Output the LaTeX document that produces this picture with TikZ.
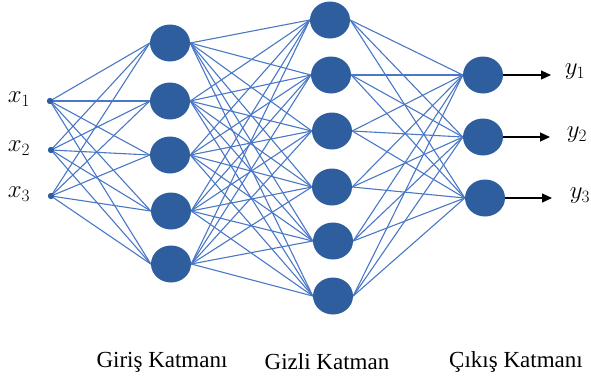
\documentclass[tikz,border=0pt]{standalone}
\usepackage{fontspec}
\setmainfont{Liberation Serif}
\usetikzlibrary{shapes.geometric,arrows.meta}
\definecolor{nodeblue}{RGB}{46,94,158}
\definecolor{edgeblue}{RGB}{74,120,198}
\begin{document}
\begin{tikzpicture}[x=1pt,y=-1pt,
  neuron/.style={ellipse,fill=nodeblue,draw=none,minimum width=40pt,minimum height=37pt,inner sep=0pt},
  indot/.style={circle,fill=nodeblue,minimum size=6pt,inner sep=0pt},
  edge/.style={edgeblue,line width=1.1pt},
  outarrow/.style={black,line width=1.2pt,-{Triangle[length=10pt,width=9pt]}},
  lbl/.style={font=\fontsize{23}{26}\selectfont},
  mlbl/.style={font=\fontsize{24}{28}\selectfont}]
\useasboundingbox (0,0) rectangle (591,384);
% input
\node[indot] (i1) at (50,101) {};
\node[indot] (i2) at (51,150) {};
\node[indot] (i3) at (51,196) {};
\node[mlbl] (xl1) at (19,99) {$x_1$};
\node[mlbl] (xl2) at (19,148) {$x_2$};
\node[mlbl] (xl3) at (19,194) {$x_3$};
% layer 1
\node[neuron] (a1) at (170,43) {};
\node[neuron] (a2) at (170,101) {};
\node[neuron] (a3) at (170,155) {};
\node[neuron] (a4) at (171,211) {};
\node[neuron] (a5) at (171,264) {};
% layer 2
\node[neuron] (b1) at (330,20) {};
\node[neuron] (b2) at (331,75) {};
\node[neuron] (b3) at (332,131) {};
\node[neuron] (b4) at (332,187) {};
\node[neuron] (b5) at (333,241) {};
\node[neuron] (b6) at (333,296) {};
% layer 3
\node[neuron] (c1) at (483,75) {};
\node[neuron] (c2) at (483,137) {};
\node[neuron] (c3) at (485,198) {};
% edges
\foreach \i in {1,2,3}{\foreach \j in {1,...,5}{\draw[edge] (i\i.center) -- (a\j.west);}}
\foreach \i in {1,...,5}{\foreach \j in {1,...,6}{\draw[edge] (a\i.east) -- (b\j.west);}}
\foreach \i in {1,...,6}{\foreach \j in {1,2,3}{\draw[edge] (b\i.east) -- (c\j.west);}}
\foreach \i in {1,2,3}{\node[indot] at (i\i) {};}
% outputs
\coordinate (o1) at (551,75);
\coordinate (o2) at (550,137);
\coordinate (o3) at (552,198);
\draw[outarrow] (c1.east) -- (o1);
\draw[outarrow] (c2.east) -- (o2);
\draw[outarrow] (c3.east) -- (o3);
\node[mlbl] (yl1) at (575,72) {$y_1$};
\node[mlbl] (yl2) at (577,135) {$y_2$};
\node[mlbl] (yl3) at (580,196) {$y_3$};
% layer labels
\node[lbl] (t1) at (162,362) {Giriş Katmanı};
\node[lbl] (t2) at (327,362) {Gizli Katman};
\node[lbl] (t3) at (516,362) {Çıkış Katmanı};
\end{tikzpicture}
\end{document}
